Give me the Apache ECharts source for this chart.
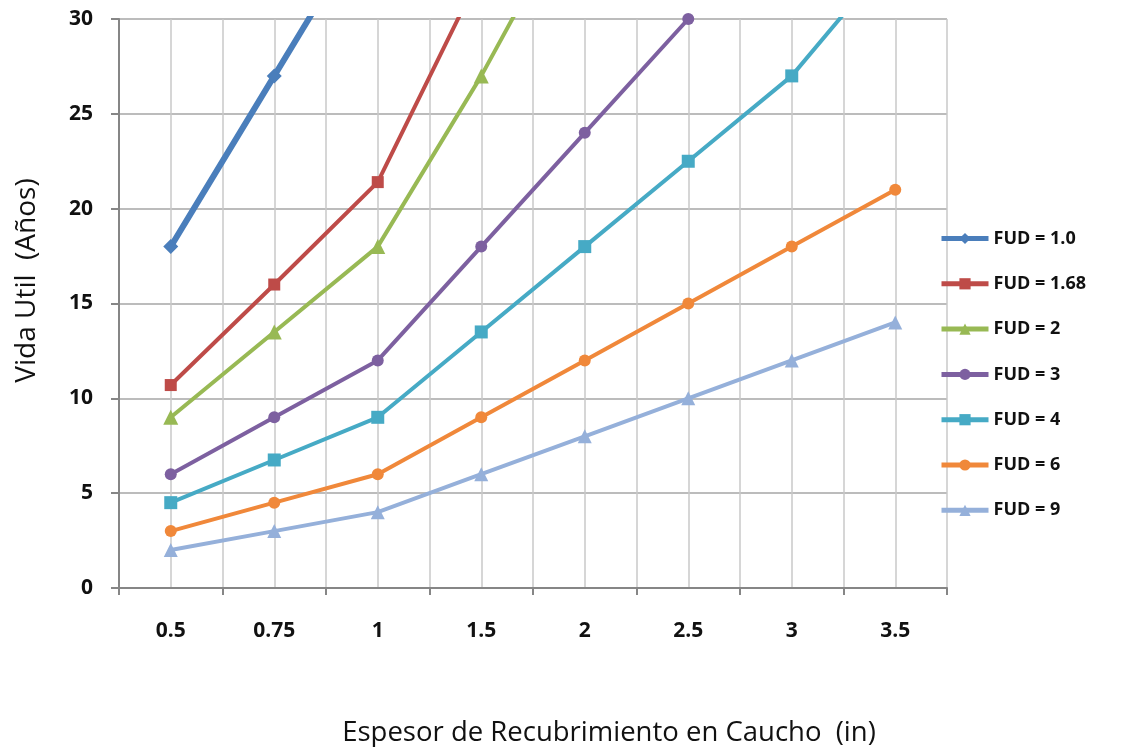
<!DOCTYPE html>
<html><head><meta charset="utf-8">
<script src="https://cdn.jsdelivr.net/npm/echarts@6/dist/echarts.min.js"></script>
<style>html,body{margin:0;padding:0;background:#fff}#c{width:1122px;height:747px}</style>
</head><body><div id="c"></div>
<script>
const categories = ['0.5','0.75','1','1.5','2','2.5','3','3.5'];
const seriesNames = ['FUD = 1.0','FUD = 1.68','FUD = 2','FUD = 3','FUD = 4','FUD = 6','FUD = 9'];
const fud1   = [18, 27, 36, null, null, null, null, null];
const fud168 = [10.7, 16, 21.4, 32.5, null, null, null, null];
const fud2   = [9, 13.5, 18, 27, 37, null, null, null];
const fud3   = [6, 9, 12, 18, 24, 30, null, null];
const fud4   = [4.5, 6.75, 9, 13.5, 18, 22.5, 27, 33.5];
const fud6   = [3, 4.5, 6, 9, 12, 15, 18, 21];
const fud9   = [2, 3, 4, 6, 8, 10, 12, 14];
const yTicks = [0, 5, 10, 15, 20, 25, 30];

const values = [fud1, fud168, fud2, fud3, fud4, fud6, fud9];
const colors = ['#4A7EBB','#BE4B48','#98B954','#7D60A0','#46AAC5','#F0883A','#95B0DA'];
const symbols = ['diamond','rect','triangle','circle','rect','circle','triangle'];
const symSizes = [15, 12, 15, 12, 13, 12, 14];
const widths = [6, 4, 4, 4, 4, 4, 4];
const FONT = '"Open Sans", "Liberation Sans", sans-serif';

const chart = echarts.init(document.getElementById('c'), null, {renderer:'canvas'});
chart.setOption({
  backgroundColor: '#ffffff',
  animation: false,
  grid: {left: 119, top: 19, width: 828, height: 569, containLabel: false, outerBoundsMode: 'none'},
  legend: {
    orient: 'vertical', left: 934, top: 224.5,
    itemWidth: 47, itemHeight: 14, itemGap: 27.3,
    lineStyle: {width: 5},
    textStyle: {fontFamily: FONT, fontWeight: 'bold', fontSize: 18, color: '#111'},
    data: seriesNames
  },
  xAxis: [{
    type: 'category', data: categories, boundaryGap: true,
    axisLine: {lineStyle: {color: '#868686', width: 2}},
    axisTick: {show: true, interval: 0, length: 7, lineStyle: {color: '#868686', width: 2}},
    axisLabel: {interval: 0, margin: 33, fontFamily: FONT, fontWeight: 'bold', fontSize: 21, color: '#111'},
    splitLine: {show: false},
    name: 'Espesor de Recubrimiento en Caucho  (in)', nameLocation: 'middle', nameGap: 131,
    nameTextStyle: {fontFamily: FONT, fontSize: 27.5, color: '#111', padding: [0, 0, 0, 152]}
  }, {
    type: 'value', min: 0, max: 16, interval: 1, position: 'bottom',
    axisLine: {show: false}, axisTick: {show: false}, axisLabel: {show: false},
    splitLine: {show: true, lineStyle: {color: '#C8C8C8', width: 1.5}}
  }],
  yAxis: {
    type: 'value', min: 0, max: 30, interval: 5,
    axisLine: {show: true, lineStyle: {color: '#868686', width: 2}},
    axisTick: {show: true, length: 8, lineStyle: {color: '#868686', width: 2}},
    axisLabel: {margin: 26, fontFamily: FONT, fontWeight: 'bold', fontSize: 21, color: '#111',
      formatter: v => yTicks.includes(v) ? String(v) : ''},
    splitLine: {show: true, lineStyle: {color: '#A6A6A6', width: 1.5}},
    name: 'Vida Util  (Años)', nameLocation: 'middle', nameGap: 78,
    nameTextStyle: {fontFamily: FONT, fontSize: 28, color: '#111', padding: [0, 0, 0, 46]}
  },
  series: seriesNames.map((n, i) => ({
    name: n, type: 'line', xAxisIndex: 0, data: values[i],
    color: colors[i], symbol: symbols[i], symbolSize: symSizes[i], showSymbol: true,
    lineStyle: {width: widths[i], color: colors[i]},
    itemStyle: {color: colors[i]},
    clip: true, connectNulls: false, z: 10 - i
  }))
});
</script></body></html>
